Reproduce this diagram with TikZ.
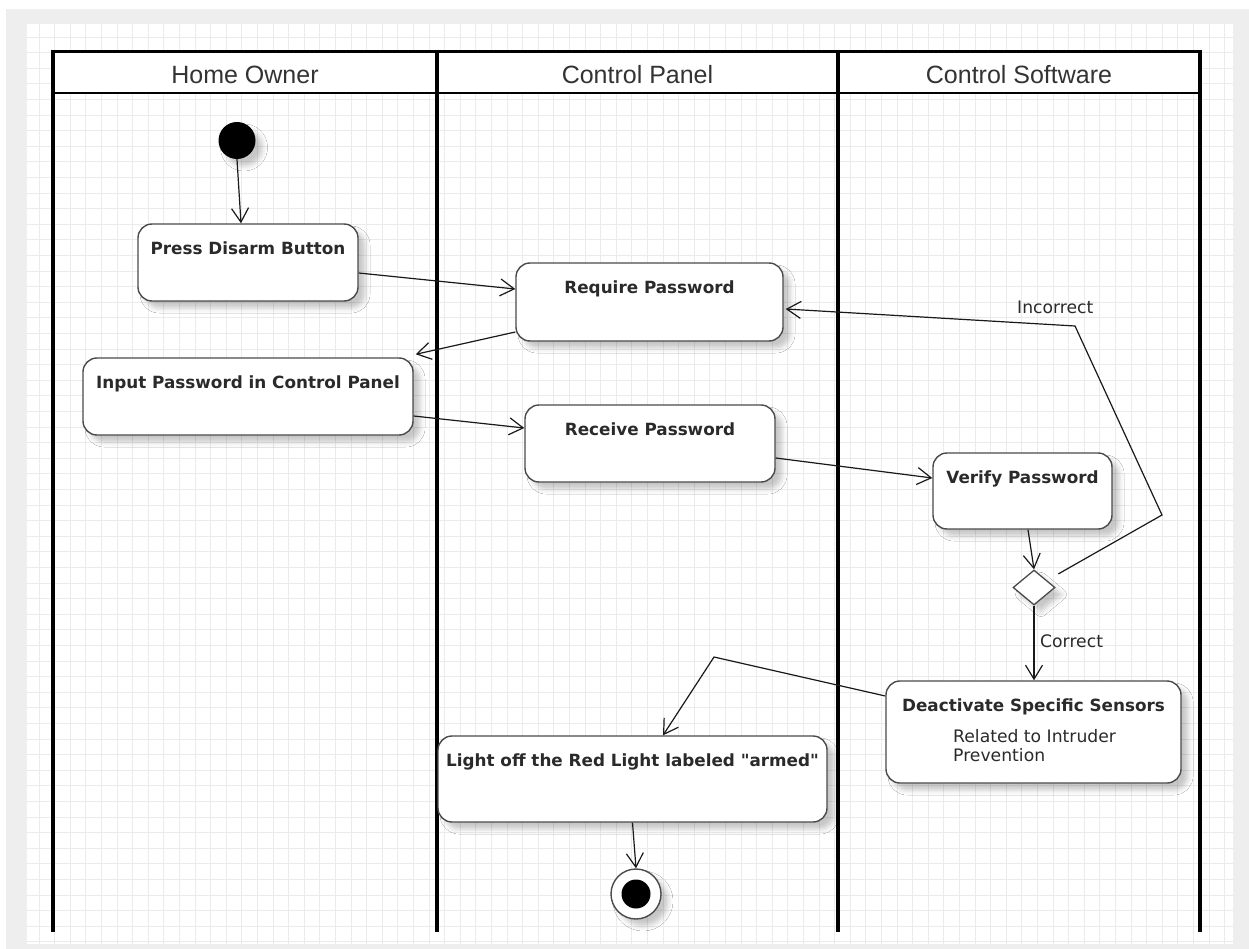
\documentclass[tikz,border=0pt]{standalone}
\usepackage{fontspec}
\setmainfont{DejaVu Sans}[Ligatures=TeXOff]
\newfontfamily\headfont{Liberation Sans}
\usetikzlibrary{arrows.meta,shapes.geometric,calc,shadows.blur}

\definecolor{pagegray}{HTML}{EEEEEE}
\definecolor{gridline}{HTML}{EBEBEB}
\definecolor{ink}{HTML}{2A2A2A}
\definecolor{boxline}{HTML}{4A4A4A}

\tikzset{
  lane/.style={line width=4pt, black},
  shade/.style={blur shadow={shadow xshift=7pt, shadow yshift=-7pt,
      shadow blur radius=5pt, shadow opacity=22}},
  actbox/.style={draw=boxline, line width=1.4pt, fill=white,
      rounded corners=14pt, inner sep=0pt, shade},
  title/.style={anchor=base, inner sep=0pt, text=ink,
      font=\bfseries\fontsize{16.8}{20}\selectfont},
  bodytext/.style={inner sep=0pt, text=ink, align=left,
      font=\fontsize{17.2}{19}\selectfont},
  edgelabel/.style={anchor=base west, inner sep=0pt, text=ink,
      font=\fontsize{17.2}{20}\selectfont},
  lanehead/.style={anchor=base, inner sep=0pt, text=black!80,
      font=\headfont\fontsize{25}{28}\selectfont},
  flow/.style={draw=black!90, line width=1.2pt,
      -{Straight Barb[length=14pt,width=17pt,line width=1.2pt]}},
  decision/.style={diamond, draw=boxline, line width=1.3pt, fill=white,
      inner sep=0pt, minimum width=42pt, minimum height=35pt, shade},
}

\begin{document}
\begin{tikzpicture}[x=1pt,y=-1pt]
  \useasboundingbox (0,0) rectangle (1249,949);

  % canvas and grid
  \fill[pagegray] (6,9) rectangle (1249,949);
  \fill[white] (27,24) rectangle (1233,944);
  \begin{scope}[shift={(39,37)}]
    \draw[gridline, line width=0.9pt, step=15.6pt] (-12,-13) grid (1194,907);
  \end{scope}

  % swimlane frame
  \fill[white] (53,51.5) rectangle (1200,93);
  \draw[line width=3.5pt] (51,51.5) -- (1202,51.5);
  \draw[line width=2.6pt] (53,93) -- (1200,93);
  \foreach \x in {53,437,838,1200}
    \draw[lane] (\x,50) -- (\x,932);

  \node[lanehead] (laneA) at (245,84) {Home Owner};
  \node[lanehead] (laneB) at (637.5,84) {Control Panel};
  \node[lanehead] (laneC) at (1019,84) {Control Software};

  % start and end
  \node[circle, fill=black, minimum size=37pt, inner sep=0pt, shade] (start) at (237,140.5) {};
  \node[circle, draw=boxline, line width=1.4pt, fill=white, minimum size=50pt, inner sep=0pt, shade] (end) at (636,894) {};
  \node[circle, fill=black, minimum size=29pt, inner sep=0pt] (endcore) at (end.center) {};

  % activities
  \node[actbox, minimum width=220pt, minimum height=77pt] (press) at (248,262.5) {};
  \node[title] (pressT) at ([yshift=-31pt]press.north) {Press Disarm Button};

  \node[actbox, minimum width=267pt, minimum height=78pt] (require) at (649.5,302) {};
  \node[title] (requireT) at ([yshift=-31pt]require.north) {Require Password};

  \node[actbox, minimum width=330pt, minimum height=77pt] (input) at (248,396.5) {};
  \node[title] (inputT) at ([yshift=-31pt]input.north) {Input Password in Control Panel};

  \node[actbox, minimum width=250pt, minimum height=77pt] (receive) at (650,443.5) {};
  \node[title] (receiveT) at ([yshift=-31pt]receive.north) {Receive Password};

  \node[actbox, minimum width=179pt, minimum height=76pt] (verify) at (1022.5,491) {};
  \node[title] (verifyT) at ([yshift=-31pt]verify.north) {Verify Password};

  \node[decision] (dia) at (1034,587.5) {};

  \node[actbox, minimum width=295pt, minimum height=102pt] (deact) at (1033.5,732) {};
  \node[title] (deactT) at ([yshift=-31pt]deact.north) {Deactivate Specific Sensors};
  \node[bodytext, anchor=north west] (deactB) at (953,729) {Related to Intruder\\Prevention};

  \node[actbox, minimum width=389pt, minimum height=86pt] (light) at (632.5,779) {};
  \node[title] (lightT) at ([yshift=-31pt]light.north) {Light off the Red Light labeled "armed"};

  % control flows
  \draw[flow] (start.south) -- ([xshift=-7pt]press.north);
  \draw[flow] ([yshift=-10.5pt]press.east) -- ([yshift=13pt]require.west);
  \draw[flow] ([yshift=-30pt]require.west) -- ([shift={(2pt,3pt)}]input.north east);
  \draw[flow] ([yshift=-19.5pt]input.east) -- ([yshift=15.5pt]receive.west);
  \draw[flow] ([yshift=-14.5pt]receive.east) -- ([yshift=13pt]verify.west);
  \draw[flow] ([xshift=5.5pt]verify.south) -- (dia.north);
  \draw[flow] ([shift={(13.5pt,4.5pt)}]dia.north east) -- (1162,515) -- (1075,326)
      -- ([shift={(2pt,-7pt)}]require.east);
  \draw[flow] (dia.south) -- (dia.south |- deact.north);
  \draw[flow] ([yshift=36pt]deact.west) -- (714,657) -- ([xshift=30.5pt]light.north);
  \draw[flow] (light.south) -- (end.north);

  % guard labels
  \node[edgelabel] (incorrect) at (1017,313) {Incorrect};
  \node[edgelabel] (correct) at (1040,647) {Correct};
\end{tikzpicture}
\end{document}
